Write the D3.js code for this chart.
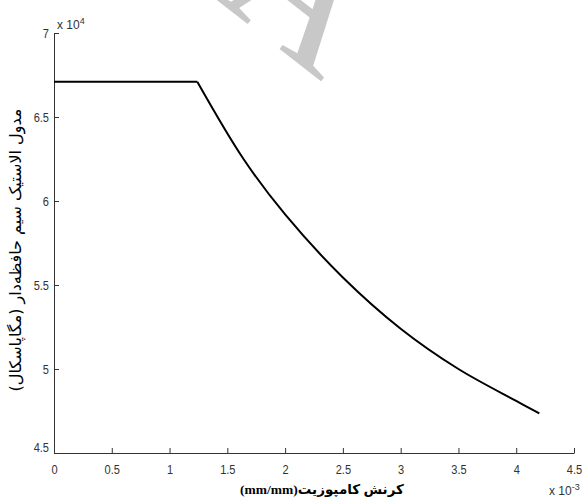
<!DOCTYPE html>
<html>
<head>
<meta charset="utf-8">
<script src="https://cdn.jsdelivr.net/npm/d3@7"></script>
<style>
  body { margin: 0; background: #fff; }
  svg { display: block; }
</style>
</head>
<body>
<svg id="chart"></svg>
<script>
// strain (x 10^-3) and modulus (x 10^4 MPa)
const flatStrain = [0, 1.24];
const flatModulus = [6.71, 6.71];
const curveStrain = [1.24, 1.64, 2.0, 2.5, 3.0, 3.5, 4.0, 4.2];
const curveModulus = [6.71, 6.25, 5.92, 5.545, 5.24, 5.0, 4.81, 4.736];
const xTicks = [0, 0.5, 1, 1.5, 2, 2.5, 3, 3.5, 4, 4.5];
const yTicks = [4.5, 5, 5.5, 6, 6.5, 7];
const xLabel = "کرنش کامپوزیت(mm/mm)";
const yLabel = "مدول الاستیک سیم حافظه‌دار (مگاپاسکال)";

const width = 584, height = 502;
const margin = { top: 33, right: 10, bottom: 49, left: 54 };
const innerW = 574 - margin.left;
const innerH = height - margin.top - margin.bottom;

const svg = d3.select("#chart").attr("width", width).attr("height", height);

// watermark
svg.append("text")
  .attr("transform", "translate(268,40) rotate(38)")
  .attr("text-anchor", "middle")
  .attr("fill", "#c8c8c8")
  .style("font-family", "Liberation Serif")
  .style("font-size", "190px")
  .text("A");

const g = svg.append("g")
  .attr("transform", `translate(${margin.left},${margin.top})`);

const x = d3.scaleLinear().domain([0, 4.5]).range([0, innerW]);
const y = d3.scaleLinear().domain([4.5, 7]).range([innerH, 0]);

const tickFont = "'Liberation Sans Narrow', 'Arial Narrow', 'Liberation Sans', sans-serif";
const fmt = d3.format("~g");

// axes, ticks pointing inward
const xAxis = g.append("g")
  .attr("transform", `translate(0,${innerH})`)
  .call(d3.axisBottom(x).tickValues(xTicks).tickFormat(fmt)
    .tickSize(-5).tickSizeOuter(0).tickPadding(9));
const yAxis = g.append("g")
  .call(d3.axisLeft(y).tickValues(yTicks).tickFormat(fmt)
    .tickSize(-5).tickSizeOuter(0).tickPadding(6));

[xAxis, yAxis].forEach(a => {
  a.selectAll("path, line").attr("stroke", "#333");
  a.selectAll("text")
    .attr("fill", "#333")
    .style("font-family", tickFont)
    .style("font-size", "13px")
    .attr("transform", "scale(0.85,1)");
});
xAxis.selectAll("text").attr("dy", "0.9em");
yAxis.selectAll("text").attr("x", -5 / 0.85);
yAxis.selectAll(".tick text").filter(d => d === 4.5).attr("dy", "-0.1em");

// line: flat part, then the falling curve
const line = d3.line()
  .x(d => x(d[0]))
  .y(d => y(d[1]));

g.append("path")
  .datum(d3.zip(flatStrain, flatModulus))
  .attr("d", line)
  .attr("fill", "none")
  .attr("stroke", "#000")
  .attr("stroke-width", 2);

g.append("path")
  .datum(d3.zip(curveStrain, curveModulus))
  .attr("d", line.curve(d3.curveCatmullRom))
  .attr("fill", "none")
  .attr("stroke", "#000")
  .attr("stroke-width", 2)
  .attr("stroke-linejoin", "round");

// exponent notes
const exp1 = svg.append("text")
  .attr("x", margin.left + 3).attr("y", 29)
  .attr("fill", "#333")
  .style("font-family", tickFont)
  .style("font-size", "12px");
exp1.append("tspan").text("x 10");
exp1.append("tspan").attr("dy", -5).style("font-size", "9px").text("4");

const exp2 = svg.append("text")
  .attr("x", 549).attr("y", 495)
  .attr("fill", "#333")
  .style("font-family", tickFont)
  .style("font-size", "12px");
exp2.append("tspan").text("x 10");
exp2.append("tspan").attr("dy", -5).style("font-size", "9px").text("-3");

// axis titles
svg.append("text")
  .attr("x", 322).attr("y", 494)
  .attr("text-anchor", "middle")
  .attr("direction", "rtl")
  .attr("fill", "#000")
  .style("font-family", "'Liberation Serif', 'DejaVu Sans', serif")
  .style("font-weight", "bold")
  .style("font-size", "13.5px")
  .text(xLabel);

svg.append("text")
  .attr("transform", `translate(21,250) rotate(-90)`)
  .attr("text-anchor", "middle")
  .attr("direction", "rtl")
  .attr("fill", "#000")
  .style("font-family", "'DejaVu Sans', sans-serif")
  .style("font-size", "16px")
  .text(yLabel);
</script>
</body>
</html>
